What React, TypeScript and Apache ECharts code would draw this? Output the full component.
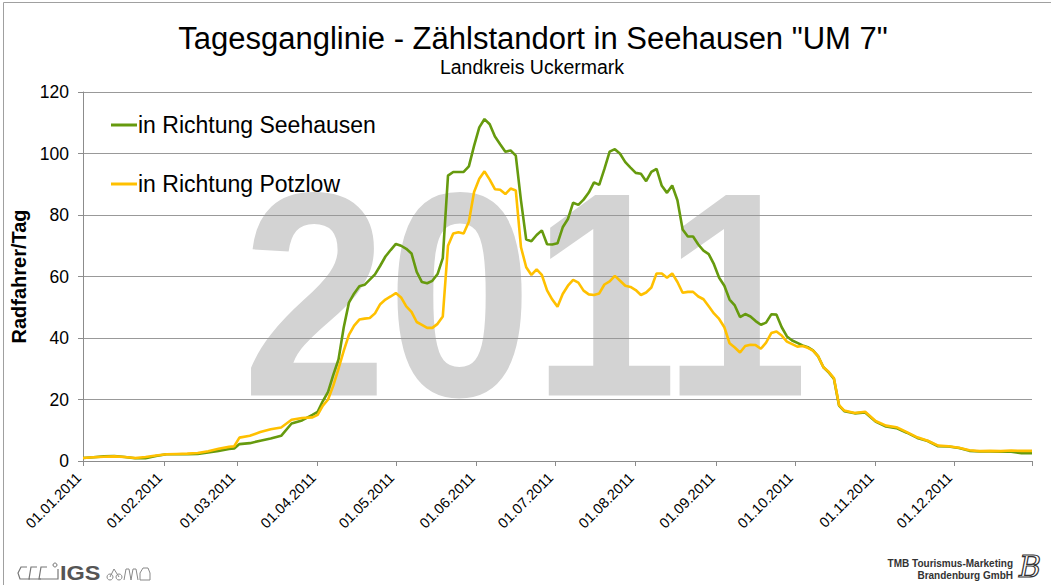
import React, { useEffect, useRef } from "react";
import * as echarts from "echarts";

const FONT = '"Liberation Sans", Arial, sans-serif';

const sampleDays: number[] = [
  0, 4, 8, 12, 16, 20, 24, 28, 32, 36, 40, 44, 48, 52, 56, 58, 60, 64, 68, 72, 76, 80, 84, 88,
  90, 92, 94, 96, 98, 100, 102, 104, 106, 108, 110, 112, 114, 116, 118, 120, 122, 124, 126, 128,
  130, 132, 134, 136, 138, 140, 142, 144, 146, 148, 150, 152, 154, 156, 158, 160, 162, 164, 166,
  168, 170, 172, 174, 176, 178, 180, 182, 184, 186, 188, 190, 192, 194, 196, 198, 200, 202, 204,
  206, 208, 210, 212, 214, 216, 218, 220, 222, 224, 226, 228, 230, 232, 234, 236, 238, 240, 242,
  244, 246, 248, 250, 252, 254, 256, 258, 260, 262, 264, 266, 268, 270, 272, 274, 276, 278, 280,
  282, 284, 286, 288, 290, 292, 296, 300, 304, 308, 312, 316, 320, 324, 328, 332, 336, 340, 344,
  348, 352, 356, 360, 364,
];

const seehausen: number[] = [
  1.0, 1.2, 1.5, 1.6, 1.3, 0.9, 0.9, 1.6, 2.2, 2.2, 2.2, 2.3, 2.8, 3.3, 3.9, 4.1, 5.5, 5.8, 6.6, 7.3, 8.2, 12.2, 13.2, 15.0,
  16.0, 19.5, 22.5, 28.0, 33.0, 43.4, 51.5, 54.5, 56.8, 57.3, 59.0, 60.7, 63.5, 66.5, 68.6, 70.6, 70.0, 69.0, 67.5, 61.5,
  58.2, 57.8, 58.6, 60.8, 66.0, 92.8, 94.0, 94.0, 94.0, 95.8, 102.5, 108.5, 111.2, 109.5, 105.5, 103.0, 100.6, 101.0, 99.3,
  84.7, 72.0, 71.5, 73.5, 75.0, 70.5, 70.4, 70.8, 76.0, 78.7, 84.0, 83.3, 85.0, 87.3, 90.6, 89.8, 95.0, 100.6, 101.4,
  99.9, 97.2, 95.4, 93.7, 93.4, 91.0, 94.0, 95.0, 89.5, 87.2, 89.6, 84.8, 75.3, 73.0, 73.0, 70.4, 68.4, 67.3, 64.0,
  59.6, 57.0, 52.5, 50.6, 46.8, 47.8, 47.0, 45.5, 44.3, 45.0, 47.7, 47.6, 43.5, 40.5, 39.2, 38.4, 37.6, 37.0, 36.0,
  34.0, 30.5, 28.8, 26.8, 18.0, 16.2, 15.5, 15.8, 12.8, 11.2, 10.7, 9.2, 7.5, 6.5, 4.8, 4.7, 4.2, 3.3, 3.1,
  3.1, 3.0, 3.0, 2.5, 2.5,
];

const potzlow: number[] = [
  1.0, 1.2, 1.4, 1.5, 1.3, 1.0, 1.3, 1.8, 2.2, 2.3, 2.4, 2.6, 3.2, 4.0, 4.6, 4.8, 7.6, 8.2, 9.4, 10.3, 10.9, 13.4, 14.0, 14.2,
  15.0, 18.0, 20.0, 24.5, 30.0, 35.8, 41.0, 44.0, 46.0, 46.3, 46.5, 48.0, 51.0, 52.5, 53.5, 54.6, 53.2, 50.3, 48.5, 45.2,
  44.3, 43.3, 43.3, 44.6, 47.0, 70.0, 74.0, 74.4, 74.0, 77.8, 87.5, 91.8, 94.2, 91.5, 88.4, 88.2, 86.8, 88.6, 88.0,
  69.5, 63.0, 60.5, 62.3, 60.5, 55.5, 52.5, 50.2, 54.3, 57.0, 58.9, 58.0, 55.4, 54.2, 54.0, 54.5, 57.4, 58.4, 60.2,
  58.6, 57.0, 56.6, 55.6, 54.0, 54.8, 56.4, 61.0, 61.0, 59.6, 61.0, 58.2, 54.7, 55.0, 55.0, 53.5, 52.6, 50.3, 48.0,
  46.2, 43.5, 38.3, 36.9, 35.3, 37.4, 37.8, 37.7, 36.5, 38.5, 41.6, 42.1, 40.8, 38.8, 38.0, 37.2, 37.4, 36.8, 35.9,
  34.0, 30.5, 29.0, 27.0, 18.2, 16.4, 15.6, 16.0, 13.0, 11.5, 11.0, 9.4, 7.7, 6.6, 5.0, 4.8, 4.3, 3.5, 3.2,
  3.3, 3.2, 3.4, 3.3, 3.3,
];

const seriesNames: string[] = ["in Richtung Seehausen", "in Richtung Potzlow"];
const yTicks = { min: 0, max: 120, interval: 20 };

const pad = (n: number) => (n < 10 ? "0" + n : "" + n);
const categories: string[] = [];
for (let i = 0; i < 365; i++) {
  const d = new Date(Date.UTC(2011, 0, 1 + i));
  categories.push(`${pad(d.getUTCDate())}.${pad(d.getUTCMonth() + 1)}.2011`);
}

export default function App() {
  const ref = useRef<HTMLDivElement>(null);
  useEffect(() => {
    if (!ref.current) return;
    const chart = echarts.init(ref.current, undefined, { renderer: "svg" });
    const toPairs = (vals: number[]) => sampleDays.map((d, i) => [d, vals[i]]);
    const isMonthStart = (_: number, v: string) => v.startsWith("01.");
    chart.setOption({
      animation: false,
      backgroundColor: "#ffffff",
      grid: { left: 83, right: 19, top: 92, bottom: 124 },
      legend: {
        orient: "vertical",
        left: 106,
        top: 108,
        itemWidth: 26,
        itemHeight: 3,
        itemGap: 35,
        icon: "rect",
        data: seriesNames,
        textStyle: { fontSize: 23, color: "#000", fontFamily: FONT, lineHeight: 24, padding: [0, 0, 0, -4] },
      },
      xAxis: {
        type: "category",
        data: categories,
        boundaryGap: false,
        axisLine: { lineStyle: { color: "#8c8c8c", width: 1 } },
        axisTick: {
          show: true,
          length: 5,
          interval: (i: number, v: string) => v.startsWith("01.") || i === 364,
          lineStyle: { color: "#8c8c8c" },
        },
        axisLabel: {
          interval: isMonthStart,
          rotate: 45,
          margin: 10,
          padding: [0, 6, 0, 0],
          fontSize: 14.5,
          color: "#000",
          fontFamily: FONT,
        },
        splitLine: { show: false },
      },
      yAxis: {
        type: "value",
        min: yTicks.min,
        max: yTicks.max,
        interval: yTicks.interval,
        name: "Radfahrer/Tag",
        nameLocation: "middle",
        nameGap: 52,
        nameTextStyle: { fontSize: 20, fontWeight: "bold", color: "#000", fontFamily: FONT },
        axisLine: { show: true, lineStyle: { color: "#8c8c8c", width: 1 } },
        axisTick: { show: true, length: 5, lineStyle: { color: "#8c8c8c" } },
        axisLabel: { fontSize: 17.5, color: "#000", margin: 14, fontFamily: FONT },
        splitLine: { lineStyle: { color: "#999999", width: 1 } },
      },
      series: [
        {
          name: seriesNames[0],
          type: "line",
          data: toPairs(seehausen),
          showSymbol: false,
          symbol: "none",
          color: "#669a0e",
          lineStyle: { color: "#669a0e", width: 2.6 },
          z: 3,
        },
        {
          name: seriesNames[1],
          type: "line",
          data: toPairs(potzlow),
          showSymbol: false,
          symbol: "none",
          color: "#ffc000",
          lineStyle: { color: "#ffc000", width: 2.6 },
          z: 4,
        },
      ],
      graphic: [
        {
          type: "text",
          x: 242,
          y: 295,
          scaleY: 1.1,
          scaleX: 0.985,
          z: -10,
          silent: true,
          style: {
            text: "2011",
            fontSize: 265,
            fontWeight: "bold",
            fontFamily: FONT,
            fill: "#d3d3d3",
            align: "left",
            verticalAlign: "middle",
          },
        },
        {
          type: "text",
          x: 533,
          y: 38,
          style: {
            text: 'Tagesganglinie - Zählstandort in Seehausen "UM 7"',
            fontSize: 31,
            fontFamily: FONT,
            fill: "#000",
            align: "center",
            verticalAlign: "middle",
          },
        },
        {
          type: "text",
          x: 532,
          y: 67,
          style: {
            text: "Landkreis Uckermark",
            fontSize: 19.5,
            fontFamily: FONT,
            fill: "#000",
            align: "center",
            verticalAlign: "middle",
          },
        },
        { type: "line", shape: { x1: 3.5, y1: 2.5, x2: 1051, y2: 2.5 }, style: { stroke: "#a0a0a0", lineWidth: 1 } },
        { type: "line", shape: { x1: 3.5, y1: 2.5, x2: 3.5, y2: 585 }, style: { stroke: "#a0a0a0", lineWidth: 1 } },
        // IGS logo (bottom left)
        {
          type: "polyline",
          shape: { points: [[27, 567], [21, 567], [18, 573], [20, 579], [30, 579]] },
          style: { stroke: "#777", fill: "none", lineWidth: 1.2 },
        },
        {
          type: "polyline",
          shape: { points: [[37, 567], [31, 567], [29, 579], [41, 579]] },
          style: { stroke: "#777", fill: "none", lineWidth: 1.2 },
        },
        {
          type: "polyline",
          shape: { points: [[47, 567], [41, 567], [39, 579], [58, 579], [58, 569]] },
          style: { stroke: "#777", fill: "none", lineWidth: 1.2 },
        },
        { type: "circle", shape: { cx: 55, cy: 565, r: 2 }, style: { stroke: "#777", fill: "none", lineWidth: 1 } },
        {
          type: "text",
          x: 60,
          y: 573,
          scaleX: 1.12,
          style: { text: "IGS", fontSize: 21, fontWeight: "bold", fontFamily: FONT, fill: "#555", verticalAlign: "middle" },
        },
        { type: "circle", shape: { cx: 110, cy: 577, r: 3 }, style: { stroke: "#888", fill: "none", lineWidth: 1 } },
        { type: "circle", shape: { cx: 119, cy: 577, r: 3 }, style: { stroke: "#888", fill: "none", lineWidth: 1 } },
        {
          type: "polyline",
          shape: { points: [[110, 577], [114, 569], [119, 577]] },
          style: { stroke: "#888", fill: "none", lineWidth: 1 },
        },
        {
          type: "polyline",
          shape: { points: [[124, 580], [126, 569], [129, 569], [131, 580], [133, 569], [136, 569], [138, 580]] },
          style: { stroke: "#888", fill: "none", lineWidth: 1 },
        },
        {
          type: "polyline",
          shape: { points: [[140, 580], [140, 573], [143, 568], [148, 568], [150, 573], [150, 580], [140, 580]] },
          style: { stroke: "#888", fill: "none", lineWidth: 1 },
        },
        // TMB logo (bottom right)
        {
          type: "text",
          x: 1013,
          y: 563,
          style: { text: "TMB Tourismus-Marketing", fontSize: 10, fontWeight: "bold", fontFamily: FONT, fill: "#333", align: "right", verticalAlign: "middle" },
        },
        {
          type: "text",
          x: 1013,
          y: 575,
          style: { text: "Brandenburg GmbH", fontSize: 10, fontWeight: "bold", fontFamily: FONT, fill: "#333", align: "right", verticalAlign: "middle" },
        },
        {
          type: "text",
          x: 1030,
          y: 566,
          style: {
            text: "B",
            fontSize: 30,
            fontStyle: "italic",
            fontFamily: '"DejaVu Serif", serif',
            fill: "none",
            stroke: "#333",
            lineWidth: 1.2,
            align: "center",
            verticalAlign: "middle",
          },
        },
      ],
    });
    return () => chart.dispose();
  }, []);
  return (
    <div
      ref={ref}
      style={{ position: "fixed", left: 0, top: 0, width: 1051, height: 585, background: "#fff" }}
    />
  );
}
